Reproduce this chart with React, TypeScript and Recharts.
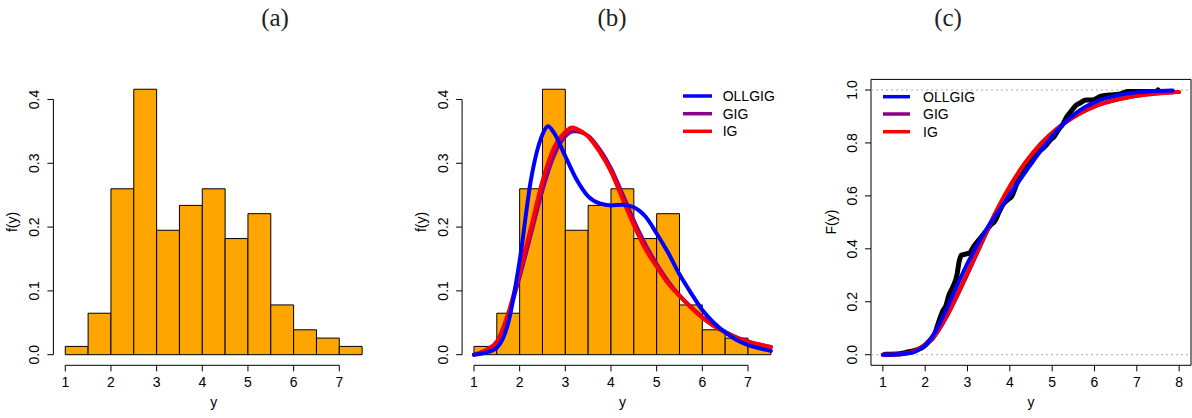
import React from 'react';
import { ComposedChart, Line, XAxis, YAxis, ReferenceArea, ReferenceLine } from 'recharts';

// ---------- data ----------
const binStarts = [1, 1.5, 2, 2.5, 3, 3.5, 4, 4.5, 5, 5.5, 6, 6.5, 7];
const binWidth = 0.5;
const densities = [0.013, 0.065, 0.26, 0.416, 0.195, 0.234, 0.26, 0.182, 0.221, 0.078, 0.039, 0.026, 0.013];

const xTicksAB = [1, 2, 3, 4, 5, 6, 7];
const yTicksAB = [0, 0.1, 0.2, 0.3, 0.4];
const xTicksC = [1, 2, 3, 4, 5, 6, 7, 8];
const yTicksC = [0, 0.2, 0.4, 0.6, 0.8, 1.0];

const seriesNames = ['OLLGIG', 'GIG', 'IG'];
const seriesColors = ['#0000FF', '#8B008B', '#FF0000'];

// density curves (panel b)
const pdfX_OLLGIG = [1, 1.25, 1.5, 1.75, 2, 2.25, 2.5, 2.62, 2.75, 3, 3.25, 3.5, 3.75, 4, 4.25, 4.5, 4.75, 5, 5.25, 5.5, 5.75, 6, 6.25, 6.5, 6.75, 7, 7.25, 7.5];
const pdfY_OLLGIG = [0, 0.003, 0.011, 0.05, 0.147, 0.275, 0.345, 0.358, 0.348, 0.311, 0.274, 0.248, 0.237, 0.234, 0.235, 0.231, 0.217, 0.19, 0.16, 0.126, 0.097, 0.07, 0.05, 0.035, 0.023, 0.015, 0.01, 0.006];
const pdfX_GIG = [1, 1.25, 1.5, 1.75, 2, 2.25, 2.5, 2.75, 3, 3.2, 3.5, 3.75, 4, 4.25, 4.5, 4.75, 5, 5.25, 5.5, 5.75, 6, 6.25, 6.5, 6.75, 7, 7.25, 7.5];
const pdfY_GIG = [0, 0.006, 0.02, 0.062, 0.122, 0.19, 0.258, 0.312, 0.342, 0.35, 0.343, 0.322, 0.292, 0.252, 0.21, 0.173, 0.142, 0.115, 0.093, 0.075, 0.059, 0.046, 0.036, 0.027, 0.021, 0.016, 0.012];
const pdfX_IG = [1, 1.25, 1.5, 1.75, 2, 2.25, 2.5, 2.75, 3, 3.15, 3.25, 3.5, 3.75, 4, 4.25, 4.5, 4.75, 5, 5.25, 5.5, 5.75, 6, 6.25, 6.5, 6.75, 7, 7.25, 7.5];
const pdfY_IG = [0, 0.007, 0.02, 0.065, 0.13, 0.2, 0.272, 0.324, 0.349, 0.356, 0.354, 0.342, 0.318, 0.287, 0.245, 0.203, 0.166, 0.138, 0.112, 0.092, 0.074, 0.058, 0.045, 0.035, 0.026, 0.02, 0.016, 0.012];

// cumulative curves (panel c)
const cdfX_OLLGIG = [1, 1.25, 1.5, 1.75, 2, 2.25, 2.5, 2.75, 3, 3.25, 3.5, 3.75, 4, 4.25, 4.5, 4.75, 5, 5.25, 5.5, 5.75, 6, 6.25, 6.5, 6.75, 7, 7.25, 7.5, 7.85];
const cdfY_OLLGIG = [0, 0.001, 0.003, 0.011, 0.035, 0.09, 0.17, 0.26, 0.345, 0.42, 0.487, 0.545, 0.605, 0.663, 0.72, 0.775, 0.825, 0.87, 0.905, 0.933, 0.953, 0.968, 0.978, 0.986, 0.991, 0.994, 0.996, 0.998];
const cdfX_GIG = [1, 1.25, 1.5, 1.75, 2, 2.25, 2.5, 2.75, 3, 3.25, 3.5, 3.75, 4, 4.25, 4.5, 4.75, 5, 5.25, 5.5, 5.75, 6, 6.25, 6.5, 6.75, 7, 7.25, 7.5, 7.85];
const cdfY_GIG = [0, 0.001, 0.004, 0.014, 0.036, 0.076, 0.141, 0.22, 0.305, 0.392, 0.478, 0.559, 0.633, 0.698, 0.752, 0.799, 0.838, 0.87, 0.897, 0.919, 0.937, 0.951, 0.962, 0.971, 0.978, 0.984, 0.988, 0.991];
const cdfX_IG = [1, 1.25, 1.5, 1.75, 2, 2.25, 2.5, 2.75, 3, 3.25, 3.5, 3.75, 4, 4.25, 4.5, 4.75, 5, 5.25, 5.5, 5.75, 6, 6.25, 6.5, 6.75, 7, 7.25, 7.5, 7.75, 8];
const cdfY_IG = [0, 0.001, 0.004, 0.015, 0.038, 0.08, 0.145, 0.225, 0.31, 0.398, 0.485, 0.565, 0.637, 0.7, 0.754, 0.8, 0.838, 0.87, 0.897, 0.92, 0.938, 0.952, 0.963, 0.971, 0.978, 0.983, 0.987, 0.99, 0.992];

// empirical cdf (panel c)
const ecdfX = [1.05, 1.4, 1.5, 1.65, 1.8, 1.96, 2.1, 2.2, 2.3, 2.4, 2.5, 2.55, 2.65, 2.75, 2.8, 2.85, 2.95, 3.05, 3.15, 3.3, 3.45, 3.55, 3.65, 3.75, 3.85, 3.95, 4.05, 4.15, 4.25, 4.35, 4.45, 4.55, 4.65, 4.75, 4.85, 4.95, 5.05, 5.15, 5.25, 5.35, 5.45, 5.55, 5.65, 5.8, 5.95, 6.15, 6.35, 6.6, 6.8, 7.45, 7.5];
const ecdfY = [0.002, 0.004, 0.007, 0.012, 0.018, 0.03, 0.052, 0.068, 0.115, 0.16, 0.19, 0.22, 0.255, 0.3, 0.35, 0.375, 0.38, 0.385, 0.41, 0.44, 0.47, 0.49, 0.505, 0.54, 0.57, 0.585, 0.6, 0.64, 0.68, 0.7, 0.715, 0.74, 0.76, 0.775, 0.79, 0.81, 0.825, 0.85, 0.87, 0.9, 0.92, 0.94, 0.95, 0.962, 0.962, 0.977, 0.981, 0.985, 0.994, 0.994, 1.0];

const zip = (xs: number[], ys: number[]) => xs.map((x, i) => ({ x, y: ys[i] }));

// ---------- layout ----------
const W = 1192;
const H = 418;
const SANS = '"Liberation Sans", Arial, Helvetica, sans-serif';
const SERIF = '"Liberation Serif", "Times New Roman", serif';
const FS = 14;

const xDomAB: [number, number] = [0.74, 7.76];
const yDomAB: [number, number] = [-0.01662, 0.43222];
const xDomC: [number, number] = [0.72, 8.28];
const yDomC: [number, number] = [-0.04, 1.04];

const XTick = (props: any) => {
  const { x, y, payload } = props;
  return (
    <text x={x} y={y + 13.7} textAnchor="middle" fontFamily={SANS} fontSize={FS} fill="#000">
      {String(payload.value)}
    </text>
  );
};

const YTick = (props: any) => {
  const { x, y, payload } = props;
  const bx = x - 6.4;
  return (
    <text x={bx} y={y} transform={`rotate(-90 ${bx} ${y})`} textAnchor="middle" fontFamily={SANS} fontSize={FS} fill="#000">
      {Number(payload.value).toFixed(1)}
    </text>
  );
};

function Frame(props: { l: number; t: number; r: number; b: number; xDom: [number, number]; yDom: [number, number]; xTicks: number[]; yTicks: number[]; children: React.ReactNode }) {
  const { l, t, r, b, xDom, yDom, xTicks, yTicks, children } = props;
  // axes take 1px each, so margins are reduced by 1px on left/bottom
  return (
    <div style={{ position: 'absolute', left: 0, top: 0 }}>
      <ComposedChart width={W} height={H} margin={{ left: l - 1, top: t, right: W - r, bottom: H - b - 1 }}>
        <XAxis
          type="number"
          dataKey="x"
          domain={xDom}
          allowDataOverflow
          ticks={xTicks}
          interval={0}
          height={1}
          axisLine={false}
          tickLine={{ stroke: '#000' }}
          tickSize={6}
          tickMargin={2}
          tick={XTick}
        />
        <YAxis
          type="number"
          domain={yDom}
          allowDataOverflow
          ticks={yTicks}
          interval={0}
          width={1}
          axisLine={false}
          tickLine={{ stroke: '#000' }}
          tickSize={6}
          tickMargin={2}
          tick={YTick}
        />
        {children}
      </ComposedChart>
    </div>
  );
}

const histBars = (prefix: string) =>
  binStarts.map((s, i) => (
    <ReferenceArea
      key={prefix + i}
      x1={s}
      x2={s + binWidth}
      y1={0}
      y2={densities[i]}
      fill="#FFA500"
      fillOpacity={1}
      stroke="#000"
      strokeWidth={1}
      ifOverflow="visible"
    />
  ));

const axisLinesAB = (prefix: string) => [
  <ReferenceLine key={prefix + 'xa'} segment={[{ x: 1, y: yDomAB[0] }, { x: 7, y: yDomAB[0] }]} stroke="#000" strokeWidth={1} ifOverflow="visible" />,
  <ReferenceLine key={prefix + 'ya'} segment={[{ x: xDomAB[0], y: 0 }, { x: xDomAB[0], y: 0.4 }]} stroke="#000" strokeWidth={1} ifOverflow="visible" />,
];

const curve = (key: string, data: { x: number; y: number }[], color: string, w: number) => (
  <Line
    key={key}
    data={data}
    dataKey="y"
    type="monotone"
    stroke={color}
    strokeWidth={w}
    dot={false}
    activeDot={false}
    isAnimationActive={false}
    strokeLinejoin="round"
    strokeLinecap="round"
  />
);

function LegendBlock({ x0, x1, tx, ys }: { x0: number; x1: number; tx: number; ys: number[] }) {
  return (
    <g>
      {seriesNames.map((n, i) => (
        <g key={n}>
          <line x1={x0} x2={x1} y1={ys[i]} y2={ys[i]} stroke={seriesColors[i]} strokeWidth={3.5} />
          <text x={tx} y={ys[i] + 5} fontFamily={SANS} fontSize={FS} fill="#000">
            {n}
          </text>
        </g>
      ))}
    </g>
  );
}

export default function App() {
  return (
    <div style={{ position: 'absolute', left: 0, top: 0, width: W, height: H, background: '#fff', overflow: 'hidden' }}>
      {/* Panel (a) */}
      <Frame l={53.4} t={78.9} r={374} b={365.3} xDom={xDomAB} yDom={yDomAB} xTicks={xTicksAB} yTicks={yTicksAB}>
        {histBars('a')}
        {axisLinesAB('a')}
      </Frame>

      {/* Panel (b) */}
      <Frame l={462.1} t={78.9} r={782.7} b={365.3} xDom={xDomAB} yDom={yDomAB} xTicks={xTicksAB} yTicks={yTicksAB}>
        {histBars('b')}
        {axisLinesAB('b')}
        {curve('bg', zip(pdfX_GIG, pdfY_GIG), seriesColors[1], 4)}
        {curve('bi', zip(pdfX_IG, pdfY_IG), seriesColors[2], 4)}
        {curve('bo', zip(pdfX_OLLGIG, pdfY_OLLGIG), seriesColors[0], 4)}
      </Frame>

      {/* Panel (c) */}
      <Frame l={871} t={79.4} r={1191} b={365.3} xDom={xDomC} yDom={yDomC} xTicks={xTicksC} yTicks={yTicksC}>
        <ReferenceLine y={0} stroke="#aaa" strokeDasharray="2 3" strokeWidth={1} />
        <ReferenceLine y={1} stroke="#aaa" strokeDasharray="2 3" strokeWidth={1} />
        <ReferenceArea x1={xDomC[0]} x2={xDomC[1]} y1={yDomC[0]} y2={yDomC[1]} fill="none" stroke="#000" strokeWidth={1} ifOverflow="visible" />
        {curve('ce', zip(ecdfX, ecdfY), '#000', 5)}
        {curve('cg', zip(cdfX_GIG, cdfY_GIG), seriesColors[1], 4)}
        {curve('ci', zip(cdfX_IG, cdfY_IG), seriesColors[2], 4)}
        {curve('co', zip(cdfX_OLLGIG, cdfY_OLLGIG), seriesColors[0], 4)}
      </Frame>

      {/* titles, axis titles, legends */}
      <svg width={W} height={H} style={{ position: 'absolute', left: 0, top: 0, pointerEvents: 'none' }}>
        <text x={275} y={25.5} textAnchor="middle" fontFamily={SERIF} fontSize={25} fill="#222">(a)</text>
        <text x={612} y={25.5} textAnchor="middle" fontFamily={SERIF} fontSize={25} fill="#222">(b)</text>
        <text x={948} y={25.5} textAnchor="middle" fontFamily={SERIF} fontSize={25} fill="#222">(c)</text>

        <text x={213.7} y={407} textAnchor="middle" fontFamily={SANS} fontSize={FS} fill="#000">y</text>
        <text x={622.4} y={407} textAnchor="middle" fontFamily={SANS} fontSize={FS} fill="#000">y</text>
        <text x={1031} y={407} textAnchor="middle" fontFamily={SANS} fontSize={FS} fill="#000">y</text>

        <text x={17} y={222} transform="rotate(-90 17 222)" textAnchor="middle" fontFamily={SANS} fontSize={FS} fill="#000">f(y)</text>
        <text x={425.5} y={222} transform="rotate(-90 425.5 222)" textAnchor="middle" fontFamily={SANS} fontSize={FS} fill="#000">f(y)</text>
        <text x={836} y={222} transform="rotate(-90 836 222)" textAnchor="middle" fontFamily={SANS} fontSize={FS} fill="#000">F(y)</text>

        <LegendBlock x0={683} x1={712} tx={722.7} ys={[96, 113.7, 131.3]} />
        <LegendBlock x0={883} x1={910} tx={923} ys={[96.7, 114, 131.7]} />
      </svg>
    </div>
  );
}
